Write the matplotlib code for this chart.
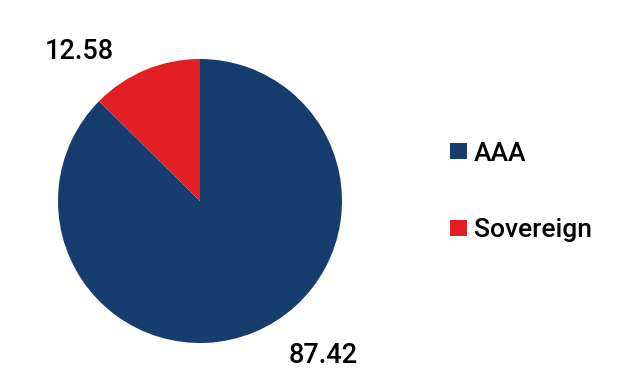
import matplotlib.pyplot as plt
from matplotlib.patches import Patch

plt.rcParams['font.family'] = ['Roboto', 'DejaVu Sans']

# data
categories = ['AAA', 'Sovereign']
values = [87.42, 12.58]
colors = ['#173d6e', '#e31e24']

fig = plt.figure(figsize=(6.19, 3.87), dpi=100)
ax = fig.add_axes([0, 0, 400 / 619, 372 / 387])

wedges, _ = ax.pie(values, colors=colors, startangle=90, counterclock=False,
                   radius=1.0, center=(0, 0))
ax.set_xlim(-200 / 142, 200 / 142)
ax.set_ylim(-186 / 142, 186 / 142)
ax.set_aspect('auto')
ax.axis('off')

# value labels
label_pos = [(0.87, -1.09), (-0.85, 1.05)]
for v, (x, y) in zip(values, label_pos):
    ax.text(x, y, f'{v:.2f}', ha='center', va='center', fontsize=19.5,
            fontweight='medium', color='black')

handles = [Patch(facecolor=c, edgecolor='none') for c in colors]
fig.legend(handles, categories, loc='center left', bbox_to_anchor=(426 / 619, 1 - 192 / 387),
           frameon=False, prop={'size': 19, 'weight': 'medium'},
           handlelength=0.65, handleheight=0.53,
           handletextpad=0.27, labelspacing=2.0)

fig.savefig('out.png', dpi=100)
